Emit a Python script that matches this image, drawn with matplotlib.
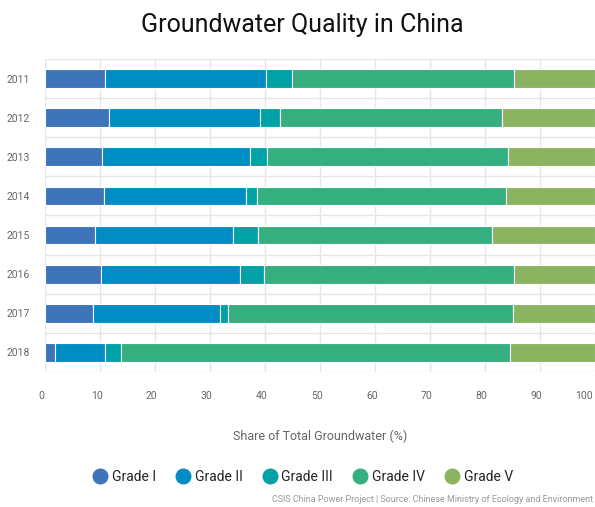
import numpy as np
import matplotlib
matplotlib.use("Agg")
import matplotlib.pyplot as plt
import matplotlib.transforms as mtransforms
from matplotlib.lines import Line2D

# Data (share of total groundwater, %)
years = ["2011", "2012", "2013", "2014", "2015", "2016", "2017", "2018"]
grades = ["Grade I", "Grade II", "Grade III", "Grade IV", "Grade V"]
grade_1 = [10.9, 11.7, 10.4, 10.8, 9.1, 10.1, 8.7, 1.9]
grade_2 = [29.3, 27.3, 26.8, 25.8, 25.0, 25.3, 23.2, 9.0]
grade_3 = [4.7, 3.7, 3.1, 1.9, 4.6, 4.5, 1.4, 2.9]
grade_4 = [40.3, 40.3, 43.8, 45.3, 42.5, 45.3, 51.7, 70.7]
grade_5 = [14.8, 17.0, 15.9, 16.2, 18.8, 14.8, 15.0, 15.5]

colors = ["#3d74ba", "#008dc3", "#00a2a6", "#35ae80", "#8bb460"]
font = "Roboto"

fig = plt.figure(figsize=(5.95, 5.07), dpi=100)
ax = fig.add_axes([45 / 595, 135 / 507, 550 / 595, 313 / 507])

series = [grade_1, grade_2, grade_3, grade_4, grade_5]
ypos = np.arange(len(years))
left = np.zeros(len(years))
for vals, col, name in zip(series, colors, grades):
    vals = np.array(vals)
    ax.barh(ypos, vals, left=left, height=0.48, color=col,
            edgecolor="white", linewidth=0.8, label=name, zorder=3)
    left = left + vals

ax.set_xlim(0, 100)
ax.set_ylim(len(years) - 0.5, -0.5)
ax.set_xticks(np.arange(0, 101, 10))
ax.set_yticks(ypos)
ax.set_yticklabels(years)

# category band lines
ax.set_yticks(np.arange(-0.5, len(years), 1), minor=True)
ax.grid(axis="y", which="minor", color="#e6e6e6", linewidth=1, zorder=0)
ax.grid(axis="x", which="major", color="#e6e6e6", linewidth=1, zorder=0)
ax.grid(axis="y", which="major", visible=False)

for s in ax.spines.values():
    s.set_visible(False)
ax.tick_params(axis="both", which="both", length=0)
ax.tick_params(axis="x", pad=14, labelsize=7.5, labelcolor="#666666")
ax.tick_params(axis="y", pad=11, labelsize=7.5, labelcolor="#666666")
for lab in ax.get_xticklabels() + ax.get_yticklabels():
    lab.set_fontfamily(font)

# x labels sit a little left of their gridlines, the last one inside the box
shift = mtransforms.ScaledTranslation(-3.3 / 100, 0, fig.dpi_scale_trans)
xlabs = ax.get_xticklabels()
for lab in xlabs:
    lab.set_transform(lab.get_transform() + shift)
xlabs[-1].set_horizontalalignment("right")
xlabs[-1].set_transform(xlabs[-1].get_transform()
                        + mtransforms.ScaledTranslation(1.3 / 100, 0, fig.dpi_scale_trans))

fig.text(302 / 595, 1 - 25 / 507, "Groundwater Quality in China", ha="center",
         va="center", fontsize=18, fontfamily=font, color="#111111")
fig.text(320 / 595, 1 - 436 / 507, "Share of Total Groundwater (%)",
         ha="center", va="center", fontsize=9, fontfamily=font,
         color="#666666")

handles = [Line2D([], [], marker="o", linestyle="", markersize=10.5,
                  markerfacecolor=c, markeredgecolor=c) for c in colors]
leg = fig.legend(handles, grades, loc="center", ncol=5,
                 bbox_to_anchor=(303 / 595, 1 - 477 / 507), frameon=False,
                 handletextpad=0.35, columnspacing=1.45, handlelength=1.0,
                 prop={"family": font, "size": 10})
for t in leg.get_texts():
    t.set_color("#222222")

fig.text(593 / 595, 1 - 499 / 507,
         "CSIS China Power Project | Source: Chinese Ministry of Ecology and Environment",
         ha="right", va="center", fontsize=6.5, fontfamily=font,
         color="#999999")

fig.savefig("out.png", dpi=100)
